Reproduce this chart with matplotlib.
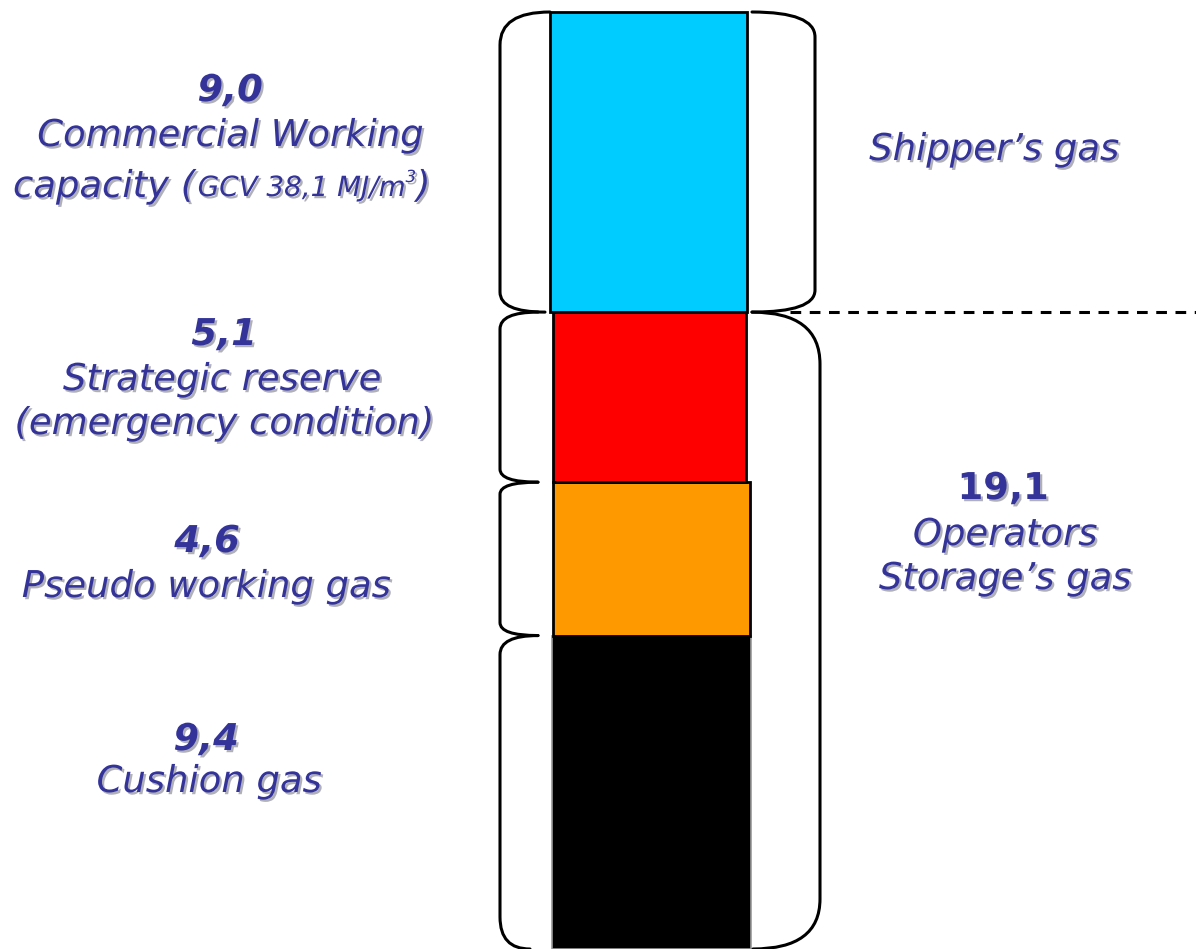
import matplotlib
matplotlib.use("Agg")
import matplotlib.pyplot as plt
import matplotlib.patheffects as pe
from matplotlib.path import Path
from matplotlib.patches import PathPatch
import numpy as np

# ---------------- data (bottom to top) ----------------
segments = ["Cushion gas", "Pseudo working gas", "Strategic reserve", "Commercial Working capacity"]
values = [9.4, 4.6, 5.1, 9.0]
value_labels = ["9,4", "4,6", "5,1", "9,0"]
colors = ["#000000", "#ff9900", "#ff0000", "#00ccff"]
operators_total = 19.1
operators_label = "19,1"

W, H = 1196, 949
fig = plt.figure(figsize=(W / 100, H / 100), dpi=100)
ax = fig.add_axes([0, 0, 1, 1])
ax.axis("off")

total = sum(values)
YMAX = total * H / (H - 12)
ax.set_xlim(0, W)
ax.set_ylim(0, YMAX)


def py(p):
    """pixel row -> data y"""
    return YMAX * (1 - p / H)


def topx(d):
    """data y -> pixel row"""
    return H * (1 - d / YMAX)


# ---------------- stacked bar ----------------
bottoms = np.concatenate([[0], np.cumsum(values)[:-1]])
lefts = [552, 553, 553, 550]
rights = [751, 750, 746, 747]
edges = ["#999999", "black", "black", "black"]
for i in range(len(values)):
    ax.bar(lefts[i], values[i], width=rights[i] - lefts[i], bottom=bottoms[i],
           align="edge", color=colors[i], edgecolor=edges[i], linewidth=2 if i else 1.2,
           zorder=2)

# ---------------- braces ----------------
tops_px = [topx(b + v) for b, v in zip(bottoms, values)]
bots_px = [topx(b) for b in bottoms]


def bracket(x_tip0, x_side, y0, y1, r0, r1, x_tip1=None):
    if x_tip1 is None:
        x_tip1 = x_tip0
    verts = [(x_tip0, y0), (x_side, y0), (x_side, y0 + r0),
             (x_side, y1 - r1), (x_side, y1), (x_tip1, y1)]
    verts = [(x, py(y)) for x, y in verts]
    codes = [Path.MOVETO, Path.CURVE3, Path.CURVE3, Path.LINETO, Path.CURVE3, Path.CURVE3]
    ax.add_patch(PathPatch(Path(verts, codes), fill=False, edgecolor="black",
                           linewidth=2.2, capstyle="round", zorder=3))


# left side (index 3 = top segment)
bracket(550, 500, tops_px[3], bots_px[3], 33, 20, 545)
bracket(538, 500, tops_px[2], bots_px[2], 17, 13)
bracket(538, 500, tops_px[1], bots_px[1], 12, 13)
bracket(538, 500, tops_px[0], bots_px[0], 19, 32, 530)

# right side
bracket(752, 815, tops_px[3], bots_px[3], 25, 22, 752)
op_top = topx(operators_total)
bracket(752, 820, op_top, H, 52, 50, 753)

ax.plot([790, W], [py(op_top), py(op_top)], color="black", linewidth=2.2,
        linestyle=(0, (3.5, 2.8)), zorder=3, clip_on=False)

# ---------------- text ----------------
TXT = "#333399"
shadow = [pe.SimplePatchShadow(offset=(1.6, -1.6), shadow_rgbFace="#a8a8b4", alpha=0.9),
          pe.Normal()]
BIG = 26.6


def label(x, ybase, s, size=BIG, weight="normal", style="italic", ha="center"):
    return ax.text(x, py(ybase), s, fontsize=size, fontweight=weight, fontstyle=style,
                   color=TXT, ha=ha, va="baseline", path_effects=shadow, zorder=4)


# Commercial working capacity
label(230, 101, value_labels[3], weight="bold")
label(230, 146, "Commercial Working")
t1 = label(13, 197, "capacity (", ha="left")
t2 = ax.annotate("GCV 38,1 MJ/m", xy=(1, py(196)), xycoords=(t1, "data"),
                 xytext=(2, 0), textcoords="offset points",
                 fontsize=20, fontstyle="italic", color=TXT, ha="left", va="baseline",
                 path_effects=shadow, zorder=4)
t3 = ax.annotate("3", xy=(1, py(182)), xycoords=(t2, "data"),
                 fontsize=12, fontstyle="italic", color=TXT, ha="left", va="baseline",
                 path_effects=shadow, zorder=4)
ax.annotate(")", xy=(1, py(197)), xycoords=(t3, "data"),
            fontsize=BIG, fontstyle="italic", color=TXT, ha="left", va="baseline",
            path_effects=shadow, zorder=4)

# Strategic reserve
label(224, 345, value_labels[2], weight="bold")
label(222, 390, "Strategic reserve")
label(224, 434, "(emergency condition)")

# Pseudo working gas
label(207, 552, value_labels[1], weight="bold")
label(206, 597, "Pseudo working gas")

# Cushion gas
label(206, 750, value_labels[0], weight="bold")
label(209, 792, "Cushion gas")

# Right side
label(994, 160, "Shipper\u2019s gas")
label(1003, 499, operators_label, weight="bold", style="normal")
label(1005, 545, "Operators")
label(1005, 589, "Storage\u2019s gas")

fig.savefig("out.png", dpi=100)
